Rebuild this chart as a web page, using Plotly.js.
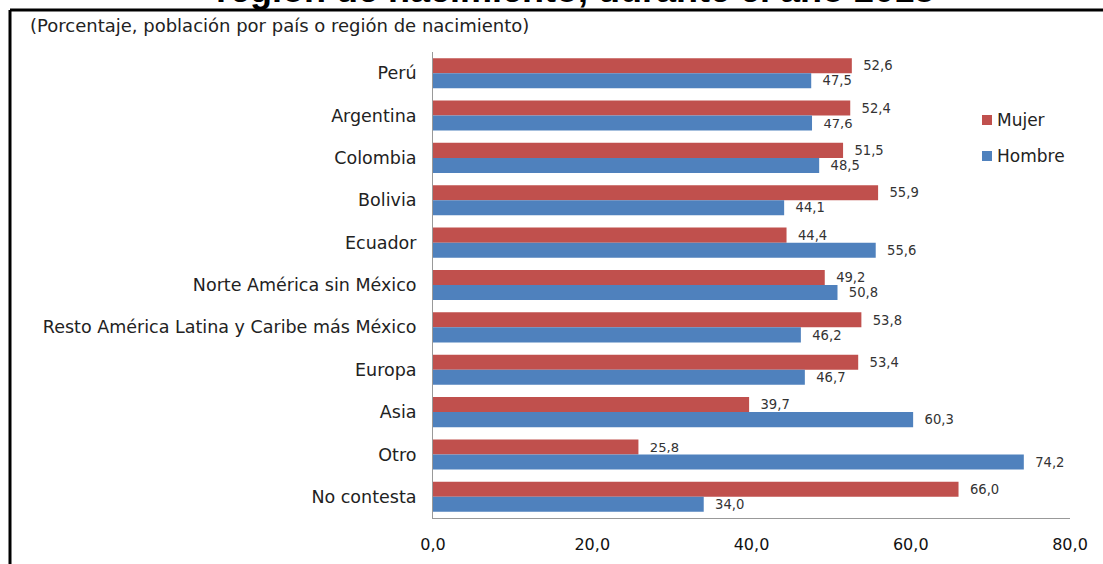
<!DOCTYPE html>
<html>
<head>
<meta charset="utf-8">
<script src="https://cdn.plot.ly/plotly-3.0.1.min.js"></script>
<style>
html,body{margin:0;padding:0;background:#fff;}
#chart{width:1103px;height:564px;}
</style>
</head>
<body>
<div id="chart"></div>
<script>
const categories = ["Perú","Argentina","Colombia","Bolivia","Ecuador","Norte América sin México","Resto América Latina y Caribe más México","Europa","Asia","Otro","No contesta"];
const mujer  = [52.6, 52.4, 51.5, 55.9, 44.4, 49.2, 53.8, 53.4, 39.7, 25.8, 66.0];
const hombre = [47.5, 47.6, 48.5, 44.1, 55.6, 50.8, 46.2, 46.7, 60.3, 74.2, 34.0];
const seriesNames = ["Mujer", "Hombre"];
const seriesColors = ["#C0504D", "#4F81BD"];
const tickVals = [0, 20, 40, 60, 80];
const titleText = "región de nacimiento, durante el año 2018";
const subtitleText = "(Porcentaje, población por país o región de nacimiento)";

const fmt = v => v.toFixed(1).replace('.', ',');
const W = 1103, H = 564;
const L = 433, R = 1070, T = 52, B = 518;
const px = x => (x - L) / (R - L);
const py = y => (B - y) / (B - T);
const FONT = "DejaVu Sans, Verdana, sans-serif";

const labelFont = {family: FONT, size: 14, color: "#333"};
const pad = "\u00a0\u00a0";

const traces = [mujer, hombre].map((vals, i) => ({
  type: "bar", orientation: "h", name: seriesNames[i], y: categories, x: vals,
  marker: {color: seriesColors[i]}, text: vals.map(v => pad + fmt(v)), textposition: "outside",
  textfont: labelFont, cliponaxis: false, showlegend: false
}));

// manual legend (square + text), positioned like the reference
const legendY = [120, 156];
const legendShapes = legendY.map((y, i) => ({
  type: "rect", xref: "paper", yref: "paper",
  x0: px(982), x1: px(992), y0: py(y - 5), y1: py(y + 5),
  fillcolor: seriesColors[i], line: {width: 0}
}));
const legendAnn = legendY.map((y, i) => ({
  text: seriesNames[i], xref: "paper", yref: "paper", x: px(995), y: py(y),
  xanchor: "left", yanchor: "middle", showarrow: false,
  font: {family: FONT, size: 17, color: "#222"}
}));

const layout = {
  width: W, height: H,
  margin: {l: L, r: W - R, t: T, b: H - B, pad: 0},
  paper_bgcolor: "#fff", plot_bgcolor: "#fff",
  separators: ",.",
  barmode: "group", bargap: 0.29, bargroupgap: 0,
  showlegend: false,
  xaxis: {range: [0, 80], tickvals: tickVals, ticktext: tickVals.map(fmt),
          showgrid: false, zeroline: false, showline: true, linecolor: "#999", linewidth: 1,
          ticks: "", ticklabelstandoff: 12,
          tickfont: {family: FONT, size: 16, color: "#111"},
          fixedrange: true},
  yaxis: {categoryorder: "array", categoryarray: categories, autorange: "reversed",
          showgrid: false, zeroline: false, showline: true, linecolor: "#999", linewidth: 1,
          ticks: "", ticklabelstandoff: 12,
          tickfont: {family: FONT, size: 17.5, color: "#222"},
          fixedrange: true},
  shapes: [
    {type: "line", xref: "paper", yref: "paper", x0: px(10), x1: px(1103), y0: py(10), y1: py(10),
     line: {color: "#000", width: 3}},
    {type: "line", xref: "paper", yref: "paper", x0: px(10), x1: px(10), y0: py(10), y1: py(564),
     line: {color: "#000", width: 3}}
  ].concat(legendShapes),
  annotations: [
    {text: "<b>" + titleText + "</b>", xref: "paper", yref: "paper", x: px(575), y: py(12),
     xanchor: "center", yanchor: "bottom", showarrow: false,
     font: {family: "Liberation Sans, Arial, sans-serif", size: 36, color: "#000"}},
    {text: subtitleText, xref: "paper", yref: "paper", x: px(28), y: py(13),
     xanchor: "left", yanchor: "top", showarrow: false,
     font: {family: FONT, size: 18, color: "#222"}}
  ].concat(legendAnn)
};

Plotly.newPlot("chart", traces, layout, {displayModeBar: false, staticPlot: true});
</script>
</body>
</html>
